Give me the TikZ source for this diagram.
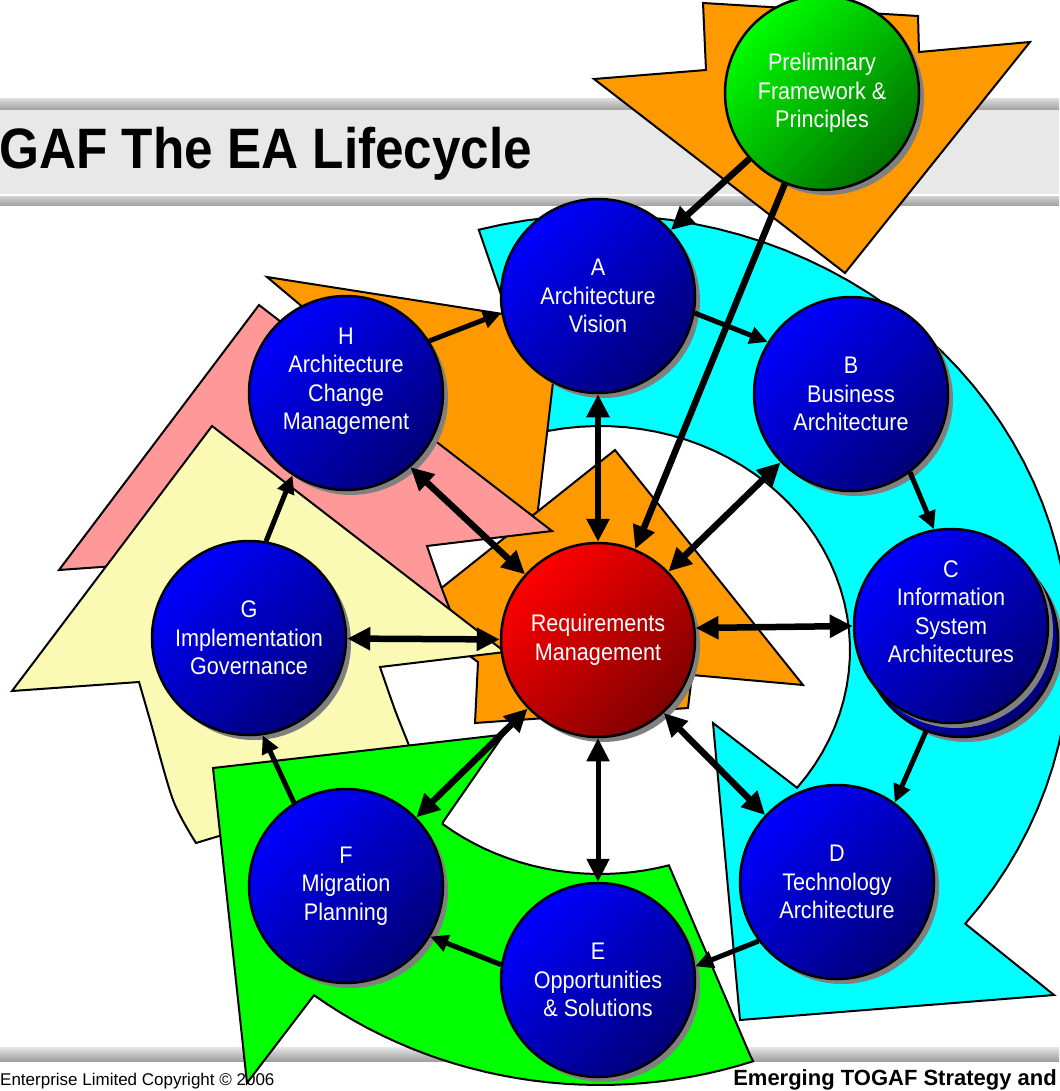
\documentclass[tikz,border=0pt]{standalone}
\usepackage{fontspec}
\setmainfont{Liberation Sans}
\newfontfamily\narrowfont[FakeStretch=0.9]{Liberation Sans}
\usetikzlibrary{arrows.meta,shadows}

\definecolor{cycorange}{HTML}{FF9900}
\definecolor{cyccyan}{HTML}{00FFFF}
\definecolor{cycgreen}{HTML}{00FF00}
\definecolor{cycyellow}{HTML}{FAFAB4}
\definecolor{cycpink}{HTML}{FF9999}
\definecolor{headgray}{HTML}{E8E8E8}
\definecolor{blueA}{HTML}{0000FF}
\definecolor{blueB}{HTML}{000078}
\definecolor{redA}{HTML}{FF0000}
\definecolor{redB}{HTML}{800000}
\definecolor{greenA}{HTML}{00FF00}
\definecolor{greenB}{HTML}{007000}

\begin{document}
\begin{tikzpicture}[x=1pt,y=-1pt,
    phase/.style={
      % The shape:
      circle,minimum size=194pt,inner sep=0pt,
      % The rest
      draw=black,line width=2.5pt,
      top color=#1A,bottom color=#1B,shading angle=45,
      drop shadow={shadow xshift=5pt,shadow yshift=-5pt,fill=gray,opacity=1},
      text=white,align=center,font=\narrowfont\fontsize{24}{28.5}\selectfont},
    phase/.default=blue,
    block/.style={draw=black,line width=2pt},
    link/.style={line width=5pt,>={Triangle[length=18pt,width=17pt]},->},
    spoke/.style={line width=6.5pt,>={Triangle[length=23pt,width=22pt]}}]
  \useasboundingbox (0,0) rectangle (1059,1091);
  % header and footer
  \fill[headgray] (0,110) rectangle (1059,194);
  \shade[top color=gray!30,bottom color=gray!75] (0,99) rectangle (1059,110);
  \shade[top color=gray!40,bottom color=gray!75] (0,197) rectangle (1059,206);
  \node (title) [anchor=base west,inner sep=0pt,font=\narrowfont\fontsize{57}{64}\selectfont\bfseries] at (-1,169) {GAF The EA Lifecycle};
  \shade[top color=gray!20,bottom color=gray!75] (0,1047) rectangle (1059,1061);
  \node (copyright) [anchor=base west,inner sep=0pt,font=\fontsize{17}{20}\selectfont] at (0,1085) {Enterprise Limited Copyright © 2006};
  \node (strategy) [anchor=base east,inner sep=0pt,font=\fontsize{22}{26}\selectfont\bfseries] at (1057,1085) {Emerging TOGAF Strategy and};

  % big arrows of the cycle
  \draw[block,fill=cycorange] (594,79) -- (706,70) -- (703,3) -- (918,16) -- (919,52) -- (1030,42) -- (845,273) -- cycle;
  \draw[block,fill=cyccyan]
    plot[domain=0:1,samples=40] ({600+250*cos(102-140*\x)},{650-224*sin(102-140*\x)})
    -- (713,723) -- (740,1020) -- (1054,995)
    -- plot[domain=0:1,samples=50] ({600+470*cos(-39+144*\x)},{650-435*sin(-39+144*\x)})
    -- cycle;
  \draw[block,fill=cycorange] (267,277) -- (560,323) -- (537,518) -- (470,480) -- (330,330) -- cycle;
  \draw[block,fill=cycorange] (615,450) -- (803,685) -- (692,675) -- (688,708) -- (475,723) -- (478,662) -- (410,613) -- cycle;
  \draw[block,fill=cycpink] (259,305) -- (552,531) -- (427,546)
    -- plot[smooth] coordinates {(427,546) (442,589) (455,622)}
    -- (186,561) -- (59,570) -- cycle;
  \draw[block,fill=cycyellow] (212,426) -- (505,652) -- (380,667)
    -- plot[smooth] coordinates {(380,667) (395,710) (408,743) (420,775)}
    -- (196,843)
    -- plot[smooth] coordinates {(196,843) (173,800) (150,720) (139,682)}
    -- (12,691) -- cycle;
  \draw[block,fill=cycgreen] (213,768) -- (500,735) -- (518,714) -- (443,822)
    -- plot[domain=0:1,samples=20] ({600+250*cos(-129+55*\x)},{650-224*sin(-129+55*\x)})
    -- (750,1055)
    -- plot[domain=0:1,samples=30] ({600+470*cos(-71-56.5*\x)},{650-435*sin(-71-56.5*\x)})
    -- (247,1083) -- cycle;

  % phases
  \node (P) [phase=green] at (822,93) {Preliminary\\Framework \&\\Principles};
  \node (A) [phase] at (598,296) {A\\Architecture\\Vision};
  \node (B) [phase] at (851,394) {B\\Business\\Architecture};
  \node (C2) [phase] at (961,640) {};
  \node (C) [phase] at (951,626) {C\\Information\\System\\Architectures\\\mbox{}};
  \node (D) [phase] at (837,882) {D\\Technology\\Architecture};
  \node (E) [phase] at (598,980) {E\\Opportunities\\\& Solutions};
  \node (F) [phase] at (346,886) {F\\Migration\\Planning};
  \node (G) [phase] at (249,638) {G\\Implementation\\Governance};
  \node (H) [phase] at (346,393) {H\\Architecture\\Change\\Management\\\mbox{}};
  \node (R) [phase=red] at (598,640) {Requirements\\Management};

  % connectors
  \draw[spoke,->] (P) -- (A);
  \draw[spoke,->] (P) -- (R);
  \draw[link] (A.-10) -- (B.148);
  \draw[link] (B.-53) -- (C.100);
  \draw[link] (C2.-111) -- (D.54);
  \draw[link] (D.217) -- (E.8);
  \draw[link] (E.171) -- (F.-31);
  \draw[link] (F.122) -- (G.-82);
  \draw[link] (G.80) -- (H.237);
  \draw[link] (H.32) -- (A.190);
  \draw[spoke,<->] (A) -- (R);
  \draw[spoke,<->] (B) -- (R);
  \draw[spoke,<->] (C.180) -- (R.7);
  \draw[spoke,<->] (D.137) -- (R.-48);
  \draw[spoke,<->,line width=5pt] (E) -- (R);
  \draw[spoke,<->] (F) -- (R);
  \draw[spoke,<->] (G) -- (R);
  \draw[spoke,<->] (H.-49) -- (R.138);
\end{tikzpicture}
\end{document}
